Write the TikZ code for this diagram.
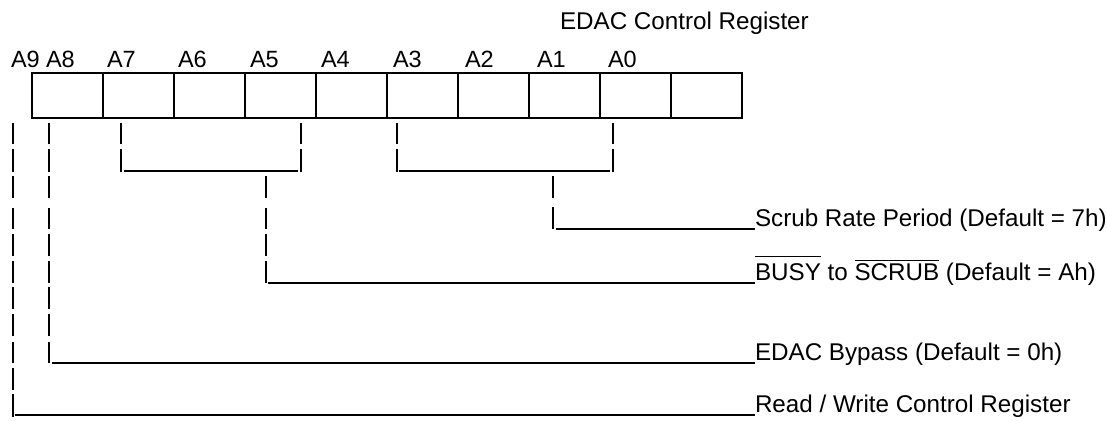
\documentclass[tikz,border=0pt]{standalone}
\usepackage{fontspec}
\setmainfont{Liberation Sans}
\newcommand\myovl[2]{\setbox0\hbox{#2}\rlap{\rule[#1]{\wd0}{1.3pt}}#2}
\begin{document}
\begin{tikzpicture}[x=1pt,y=-1pt,
  cell/.style={draw,line width=1.1pt,minimum width=71pt,minimum height=45pt,inner sep=0pt,outer sep=0pt,anchor=north west},
  txt/.style={font=\fontsize{24.2}{28}\selectfont,anchor=base west,inner sep=0pt,outer sep=0pt},
  bitlbl/.style={font=\fontsize{23.5}{28}\selectfont,anchor=base west,inner sep=0pt,outer sep=0pt},
  bar/.style={line width=1.8pt},
  hline/.style={line width=2pt}]
\useasboundingbox (0,0) rectangle (1107,420);
% register cells
\foreach \i in {0,...,9} \node[cell] (c\i) at ({32+71*\i},73) {};
% title and bit labels
\node[txt] (title) at (560,30) {EDAC Control Register};
\node[bitlbl] (lA9) at (11,67) {A9};
\node[bitlbl] (lA8) at (46,67) {A8};
\node[bitlbl] (lA7) at (107,67) {A7};
\node[bitlbl] (lA6) at (178,67) {A6};
\node[bitlbl] (lA5) at (250,67) {A5};
\node[bitlbl] (lA4) at (321,67) {A4};
\node[bitlbl] (lA3) at (393,67) {A3};
\node[bitlbl] (lA2) at (465,67) {A2};
\node[bitlbl] (lA1) at (537,67) {A1};
\node[bitlbl] (lA0) at (608,67) {A0};
% field labels
\node[txt] (scrub) at (755,226) {Scrub Rate Period (Default = 7h)};
\node[txt] (busy) at (755,280) {\myovl{23pt}{BUSY} to \myovl{19pt}{SCRUB} (Default = Ah)};
\node[txt] (bypass) at (755,360) {EDAC Bypass (Default = 0h)};
\node[txt] (rw) at (755,412) {Read / Write Control Register};
% vertical bar stacks
\foreach \a/\b in {123/144,149/172,176/198,208/229,234/256,261/283,287/309,314/336,342/363,368/390,394/417}
  \draw[bar] (13,\a) -- (13,\b);
\foreach \a/\b in {123/144,149/172,176/198,208/229,234/256,261/283,287/309,314/336,342/363}
  \draw[bar] (49,\a) -- (49,\b);
\foreach \x in {121,301,397,613}
  \foreach \a/\b in {123/144,149/172}
    \draw[bar] (\x,\a) -- (\x,\b);
\foreach \a/\b in {176/198,208/229,234/256,261/283}
  \draw[bar] (266,\a) -- (266,\b);
\foreach \a/\b in {176/198,207/229}
  \draw[bar] (553,\a) -- (553,\b);
% horizontal lines
\coordinate (b1s) at (124,171); \coordinate (b1e) at (298,171);
\coordinate (b2s) at (399,171); \coordinate (b2e) at (610,171);
\coordinate (hs) at (556,229);
\coordinate (hb) at (268,283);
\coordinate (he) at (52,363);
\coordinate (hr) at (15,415);
\draw[hline] (b1s) -- (b1e);
\draw[hline] (b2s) -- (b2e);
\draw[hline] (hs) -- (hs -| scrub.west);
\draw[hline] (hb) -- (hb -| busy.west);
\draw[hline] (he) -- (he -| bypass.west);
\draw[hline] (hr) -- (hr -| rw.west);
\end{tikzpicture}
\end{document}
